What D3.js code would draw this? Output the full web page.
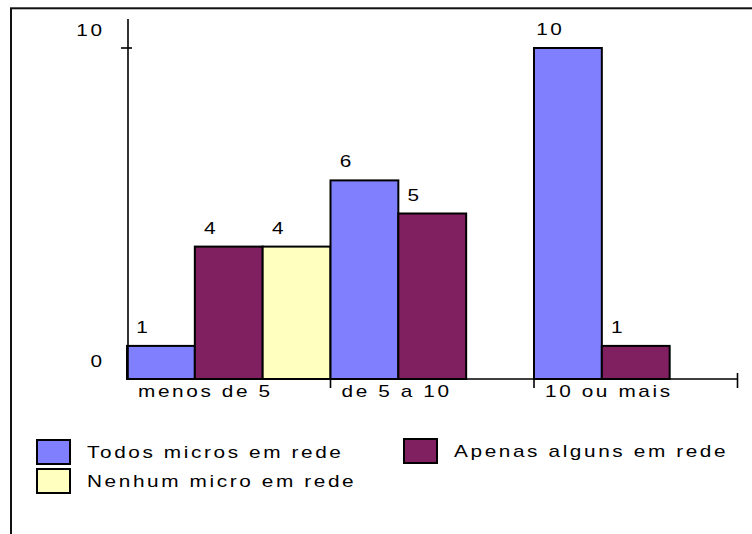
<!DOCTYPE html>
<html><head><meta charset="utf-8">
<script src="https://cdn.jsdelivr.net/npm/d3@7"></script>
<style>
html,body{margin:0;padding:0;background:#fff;}
svg{display:block;}
text{font-family:"Liberation Sans",Arial,sans-serif;font-size:16px;fill:#000;}
</style></head>
<body>
<svg id="chart" width="752" height="534"></svg>
<script>
const categories = ["menos de 5", "de 5 a 10", "10 ou mais"];
const seriesNames = ["Todos micros em rede", "Apenas alguns em rede", "Nenhum micro em rede"];
const todosValues = [1, 6, 10];
const apenasValues = [4, 5, 1];
const nenhumValues = [4, null, null];
const yTickValues = [0, 10];
const seriesColors = ["#8080ff", "#802060", "#ffffc0"];

const seriesValues = [todosValues, apenasValues, nenhumValues];
const SX = 1.3, LS = 2;
const svg = d3.select("#chart");

function stretchedText(parent, x, y, str, anchor) {
  const g = parent.append("g").attr("transform", `translate(${x},${y}) scale(${SX},1)`);
  const t = g.append("text").attr("x", 0).attr("y", 0)
    .style("letter-spacing", LS + "px").text(str);
  if (anchor === "middle") t.attr("text-anchor", "middle").attr("dx", LS / 2);
  if (anchor === "end") t.attr("text-anchor", "end").attr("dx", LS);
  return t;
}

// frame
svg.append("rect").attr("x", 11).attr("y", 8.3).attr("width", 800).attr("height", 600)
  .attr("fill", "none").attr("stroke", "#111").attr("stroke-width", 2);

const x = d3.scaleBand().domain(categories).range([127, 737.5]).padding(0);
const xs = d3.scaleBand().domain(d3.range(seriesNames.length)).range([0, x.bandwidth()]).padding(0);
const y = d3.scaleLinear().domain([0, 10]).range([379, 48]);

// bars
const barData = [];
categories.forEach((c, ci) => {
  seriesValues.forEach((vals, si) => {
    if (vals[ci] != null) barData.push({c, si, v: vals[ci]});
  });
});
svg.append("g").selectAll("rect").data(barData).join("rect")
  .attr("x", d => x(d.c) + xs(d.si))
  .attr("y", d => y(d.v))
  .attr("width", xs.bandwidth())
  .attr("height", d => y(0) - y(d.v))
  .attr("fill", d => seriesColors[d.si])
  .attr("stroke", "#000").attr("stroke-width", 2);

// value labels
const vl = svg.append("g");
barData.forEach(d => {
  stretchedText(vl, x(d.c) + xs(d.si) + 15, y(d.v) - 13, String(d.v), "middle");
});

// y axis line
svg.append("line").attr("x1", 128).attr("x2", 128).attr("y1", 19).attr("y2", y(0))
  .attr("stroke", "#000").attr("stroke-width", 1.6);
// y ticks
yTickValues.forEach(v => {
  if (v !== 0) {
    svg.append("line").attr("x1", 121).attr("x2", 132).attr("y1", y(v)).attr("y2", y(v))
      .attr("stroke", "#000").attr("stroke-width", 1.6);
  }
  stretchedText(svg, 102, y(v) - 12, String(v), "end");
});

// x axis
const xr = x.range();
svg.append("line").attr("x1", xr[0]).attr("x2", xr[1]).attr("y1", y(0)).attr("y2", y(0))
  .attr("stroke", "#000").attr("stroke-width", 1.6);
categories.forEach((c, i) => {
  const bx = x(c) + x.bandwidth();
  const last = i === categories.length - 1;
  svg.append("line").attr("x1", bx).attr("x2", bx)
    .attr("y1", last ? y(0) - 6 : y(0)).attr("y2", y(0) + 9)
    .attr("stroke", "#000").attr("stroke-width", 1.6);
  stretchedText(svg, x(c) + 11, 397, c, "start");
});

// legend
const legendPos = [[37, 440], [404, 439], [37, 469]];
seriesNames.forEach((name, i) => {
  const [lx, ly] = legendPos[i];
  svg.append("rect").attr("x", lx).attr("y", ly).attr("width", 33).attr("height", 24)
    .attr("fill", seriesColors[i]).attr("stroke", "#000").attr("stroke-width", 2);
  stretchedText(svg, lx + 50, ly + 17.5, name, "start");
});
</script>
</body></html>
